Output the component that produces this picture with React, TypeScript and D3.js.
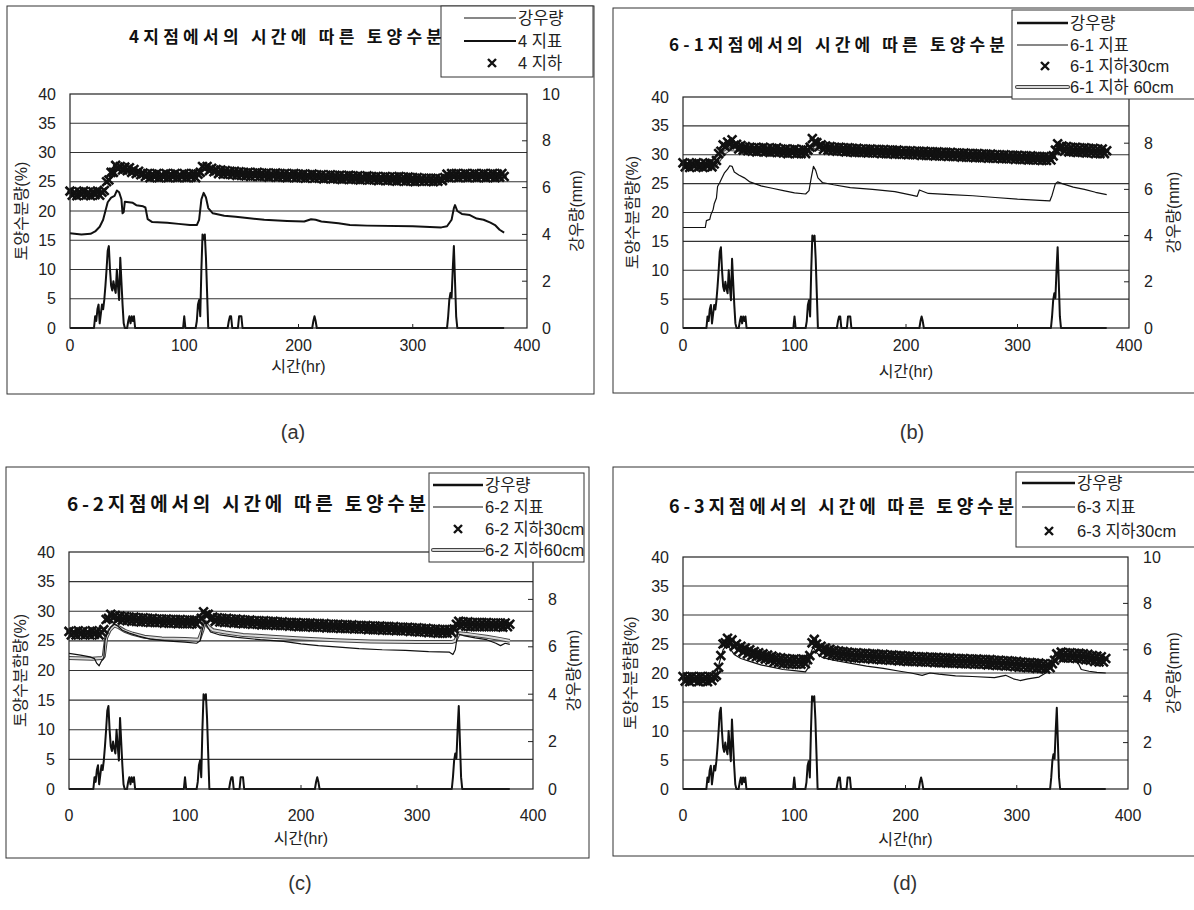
import React from 'react';
import * as d3 from 'd3';

// Hourly rainfall (hour, mm) recorded at the site; hours not listed had no rain.
const rainEvents: [number, number][] = [
  [22, 0.5], [23, 0.3], [24, 0.8], [25, 1.0], [26, 0.2], [27, 0.6], [28, 1.0], [29, 0.8], [30, 1.2],
  [31, 1.8], [32, 2.5], [33, 3.3], [34, 3.5], [35, 2.5], [36, 1.8], [37, 1.6], [38, 2.0], [39, 1.7],
  [40, 1.5], [41, 2.5], [42, 1.8], [43, 1.2], [44, 3.0], [45, 2.0], [46, 1.0], [47, 0.2],
  [51, 0.3], [52, 0.5], [53, 0.2], [54, 0.5], [55, 0.3], [56, 0.5],
  [100, 0.5],
  [111, 0.3], [112, 1.0], [113, 1.2], [114, 0.5], [115, 2.5], [116, 4.0], [117, 3.8], [118, 4.0], [119, 3.0], [120, 1.5],
  [139, 0.3], [140, 0.5], [141, 0.5],
  [148, 0.5], [149, 0.5], [150, 0.5],
  [213, 0.3], [214, 0.5], [215, 0.3],
  [331, 0.5], [332, 1.2], [333, 1.5], [334, 1.3], [335, 2.5], [336, 3.5], [337, 2.0], [338, 0.5],
];
const recordHours = 380;

// Subsurface sensors log every 2 hours starting at hour 0.
const subStep = 2;

const xTicks = [0, 100, 200, 300, 400];
const leftTicks = [0, 5, 10, 15, 20, 25, 30, 35, 40];
const rightTicks = [0, 2, 4, 6, 8, 10];

// ---- Station 4 ----
const st4Surface: [number, number][] = [
  [0, 16.2], [10, 16.0], [18, 16.1], [22, 16.5], [26, 17.3], [29, 18.5], [31, 20.0], [33, 21.5], [36, 22.3],
  [39, 22.6], [41, 23.5], [43, 23.2], [45, 22.0], [46, 19.6], [47, 19.8], [48, 21.6], [55, 21.4], [58, 21.0],
  [64, 20.8], [66, 20.6], [68, 18.6], [72, 18.1], [85, 18.0], [95, 17.8], [105, 17.6], [111, 17.6], [113, 18.5],
  [115, 22.0], [117, 23.1], [119, 22.3], [121, 20.5], [125, 19.6], [135, 19.2], [145, 19.0], [155, 18.8],
  [170, 18.5], [190, 18.3], [205, 18.2], [211, 18.6], [215, 18.5], [220, 18.2], [235, 17.9], [245, 17.6],
  [260, 17.5], [300, 17.4], [325, 17.2], [330, 17.4], [334, 18.5], [336, 20.5], [337, 21.0], [339, 20.0],
  [343, 19.5], [350, 19.3], [356, 18.7], [362, 18.5], [368, 18.0], [372, 17.6], [376, 16.8], [380, 16.3],
];
const st4Sub: number[] = [
  23.4, 22.7, 23.2, 22.6, 23.3, 22.8, 23.4, 22.7, 23.2, 22.6, 23.3, 22.8, 23.4, 22.7, 23.2, 23.5,
  25.0, 25.3, 26.6, 26.6, 27.8, 27.2, 27.6, 27.0, 27.5, 26.9, 27.4, 26.6, 27.1, 26.4, 26.8, 26.2,
  26.5, 25.9, 26.4, 25.7, 26.3, 25.8, 26.4, 25.7, 26.2, 25.8, 26.4, 25.7, 26.3, 25.8, 26.4, 25.7,
  26.2, 25.8, 26.4, 25.7, 26.3, 25.8, 26.4, 25.7, 26.3, 26.6, 27.6, 27.3, 27.6, 26.9, 27.3, 26.7,
  27.1, 26.4, 27.0, 26.3, 26.9, 26.3, 26.8, 26.2, 26.8, 26.1, 26.7, 26.1, 26.6, 26.0, 26.6, 25.9,
  26.5, 26.0, 26.6, 25.9, 26.5, 25.9, 26.5, 25.8, 26.4, 25.9, 26.5, 25.8, 26.4, 25.8, 26.4, 25.7,
  26.3, 25.8, 26.4, 25.7, 26.3, 25.7, 26.3, 25.6, 26.2, 25.7, 26.3, 25.6, 26.2, 25.6, 26.2, 25.5,
  26.1, 25.6, 26.2, 25.5, 26.1, 25.5, 26.1, 25.4, 26.0, 25.5, 26.1, 25.4, 26.0, 25.4, 26.0, 25.3,
  25.9, 25.4, 26.0, 25.3, 25.9, 25.3, 25.9, 25.2, 25.8, 25.3, 25.9, 25.2, 25.8, 25.2, 25.8, 25.1,
  25.9, 25.2, 25.8, 25.1, 25.8, 25.1, 25.7, 25.0, 25.7, 25.1, 25.6, 25.1, 25.6, 25.1, 25.6, 25.0,
  25.6, 25.1, 25.5, 25.2, 25.7, 26.3, 25.7, 26.4, 25.8, 26.4, 25.7, 26.3, 25.8, 26.4, 25.7, 26.3,
  25.8, 26.4, 25.7, 26.3, 25.8, 26.4, 25.7, 26.3, 25.8, 26.4, 25.7, 26.3, 25.8, 26.4, 25.9,
];

// ---- Station 6-1 ----
const st61Surface: [number, number][] = [
  [0, 17.4], [20, 17.4], [21, 18.6], [24, 18.8], [25, 19.6], [27, 20.5], [28, 21.5], [30, 22.5], [31, 24.5],
  [33, 25.2], [35, 26.0], [37, 26.8], [40, 27.5], [42, 28.1], [44, 28.0], [46, 27.0], [50, 26.5], [55, 26.0],
  [60, 25.3], [70, 24.6], [80, 24.2], [90, 23.8], [100, 23.4], [110, 23.2], [113, 23.8], [115, 26.0],
  [117, 28.0], [119, 27.3], [121, 26.0], [125, 25.2], [135, 24.8], [150, 24.3], [170, 24.0], [190, 23.6],
  [205, 23.0], [210, 22.8], [212, 23.9], [216, 23.6], [220, 23.3], [240, 23.1], [260, 22.9], [280, 22.6],
  [300, 22.3], [320, 22.1], [329, 22.0], [331, 23.0], [334, 25.0], [336, 25.3], [340, 25.0], [350, 24.4],
  [360, 24.0], [370, 23.5], [380, 23.1],
];
const st61Sub30: number[] = [
  28.6, 27.9, 28.4, 27.8, 28.5, 28.0, 28.6, 27.9, 28.4, 27.8, 28.5, 28.0, 28.6, 27.9, 28.4, 29.0,
  30.2, 30.6, 31.7, 31.4, 32.2, 31.8, 32.6, 31.6, 31.8, 31.0, 31.6, 30.8, 31.4, 30.7, 31.3, 30.6,
  31.2, 30.5, 31.2, 30.6, 31.3, 30.5, 31.1, 30.4, 31.1, 30.5, 31.2, 30.4, 31.0, 30.3, 31.0, 30.2,
  30.9, 30.3, 31.0, 30.2, 30.8, 30.2, 30.9, 30.2, 30.8, 31.3, 32.8, 32.2, 32.1, 31.4, 31.7, 30.9,
  31.5, 30.8, 31.4, 30.7, 31.3, 30.6, 31.3, 30.6, 31.2, 30.5, 31.2, 30.5, 31.1, 30.4, 31.1, 30.4,
  31.0, 30.4, 31.0, 30.3, 31.0, 30.3, 30.9, 30.3, 30.9, 30.2, 30.9, 30.2, 30.8, 30.2, 30.8, 30.1,
  30.8, 30.1, 30.7, 30.1, 30.7, 30.0, 30.7, 30.0, 30.6, 30.0, 30.6, 29.9, 30.6, 29.9, 30.5, 29.9,
  30.5, 29.8, 30.5, 29.8, 30.4, 29.8, 30.4, 29.7, 30.4, 29.7, 30.3, 29.7, 30.3, 29.6, 30.3, 29.6,
  30.2, 29.6, 30.2, 29.5, 30.2, 29.5, 30.1, 29.5, 30.1, 29.4, 30.1, 29.4, 30.0, 29.4, 30.0, 29.3,
  30.0, 29.3, 29.9, 29.3, 29.9, 29.2, 29.9, 29.2, 29.8, 29.2, 29.8, 29.1, 29.8, 29.1, 29.7, 29.1,
  29.7, 29.0, 29.7, 29.0, 29.6, 29.1, 29.8, 30.8, 31.9, 31.0, 31.5, 30.6, 31.4, 30.5, 31.3, 30.5,
  31.3, 30.4, 31.2, 30.4, 31.2, 30.3, 31.1, 30.3, 31.1, 30.2, 31.0, 30.2, 31.0, 30.2, 30.7,
];
const st61Sub60: [number, number][] = [
  [0, 28.0], [28, 28.0], [32, 29.0], [36, 30.2], [42, 31.0], [50, 30.8], [80, 30.5], [112, 30.2],
  [116, 31.5], [122, 31.0], [150, 30.6], [200, 30.3], [250, 30.0], [300, 29.7], [330, 29.4], [334, 30.3],
  [338, 30.8], [360, 30.6], [380, 30.4],
];

// ---- Station 6-2 ----
const st62Surface: [number, number][] = [
  [0, 22.9], [10, 22.6], [18, 22.3], [22, 22.0], [24, 21.2], [26, 20.8], [28, 21.6], [30, 22.0], [31, 25.0],
  [33, 26.3], [36, 27.3], [39, 27.8], [42, 27.5], [46, 26.8], [52, 26.3], [60, 25.8], [70, 25.3], [80, 25.1],
  [90, 24.9], [100, 24.8], [110, 24.6], [113, 25.0], [115, 27.0], [117, 28.2], [119, 27.5], [122, 26.5],
  [130, 26.0], [145, 25.6], [165, 25.2], [185, 24.9], [200, 24.5], [215, 24.2], [230, 24.0], [250, 23.7],
  [270, 23.5], [290, 23.4], [310, 23.2], [328, 23.1], [331, 22.7], [333, 23.5], [335, 26.2], [340, 25.9],
  [350, 25.5], [360, 25.2], [368, 24.6], [372, 24.2], [376, 24.6], [380, 24.4],
];
const st62Sub30: number[] = [
  26.6, 26.0, 26.5, 26.0, 26.7, 26.1, 26.6, 26.0, 26.5, 26.0, 26.7, 26.1, 26.6, 26.0, 26.5, 26.9,
  28.6, 28.8, 29.5, 28.9, 29.3, 28.6, 29.2, 28.5, 29.1, 28.4, 29.0, 28.3, 29.0, 28.3, 28.9, 28.2,
  28.9, 28.2, 28.8, 28.1, 28.8, 28.1, 28.7, 28.1, 28.7, 28.0, 28.7, 28.0, 28.6, 28.0, 28.6, 27.9,
  28.6, 27.9, 28.5, 27.9, 28.5, 27.9, 28.5, 27.8, 28.4, 28.8, 29.9, 29.4, 29.5, 28.6, 29.0, 28.3,
  28.9, 28.2, 28.8, 28.1, 28.8, 28.1, 28.7, 28.0, 28.7, 28.0, 28.6, 27.9, 28.5, 27.9, 28.5, 27.8,
  28.4, 27.8, 28.4, 27.7, 28.4, 27.7, 28.3, 27.7, 28.3, 27.6, 28.2, 27.6, 28.2, 27.6, 28.1, 27.5,
  28.1, 27.5, 28.1, 27.4, 28.0, 27.4, 28.0, 27.4, 28.0, 27.3, 27.9, 27.3, 27.9, 27.3, 27.9, 27.2,
  27.8, 27.2, 27.8, 27.2, 27.8, 27.1, 27.7, 27.1, 27.7, 27.1, 27.7, 27.0, 27.6, 27.0, 27.6, 27.0,
  27.6, 26.9, 27.5, 26.9, 27.5, 26.9, 27.5, 26.8, 27.4, 26.8, 27.4, 26.8, 27.4, 26.7, 27.3, 26.7,
  27.3, 26.7, 27.3, 26.6, 27.2, 26.6, 27.2, 26.5, 27.1, 26.5, 27.1, 26.4, 27.0, 26.4, 27.0, 26.3,
  26.9, 26.3, 26.9, 26.3, 26.9, 26.4, 27.0, 27.8, 28.3, 27.5, 28.2, 27.5, 28.2, 27.4, 28.1, 27.4,
  28.1, 27.4, 28.1, 27.4, 28.1, 27.4, 28.0, 27.4, 28.0, 27.4, 28.0, 27.3, 28.0, 27.4, 27.8,
];
const st62Sub60: [number, number][] = [
  [0, 22.1], [20, 22.0], [28, 22.1], [30, 22.4], [32, 25.5], [35, 26.8], [39, 27.6], [43, 27.3], [48, 26.7],
  [55, 26.2], [65, 25.7], [80, 25.4], [100, 25.3], [112, 25.2], [115, 26.8], [117, 28.3], [120, 27.4],
  [124, 26.8], [135, 26.4], [150, 26.0], [175, 25.7], [200, 25.4], [230, 25.1], [260, 24.9], [300, 24.8],
  [330, 24.8], [333, 25.0], [336, 26.3], [345, 26.1], [360, 25.7], [372, 25.3], [380, 25.0],
];

// ---- Station 6-3 ----
const st63Surface: [number, number][] = [
  [0, 18.6], [20, 18.4], [28, 18.6], [30, 19.5], [33, 22.0], [36, 24.0], [39, 24.8], [42, 24.3], [46, 23.2],
  [52, 22.5], [60, 22.0], [70, 21.4], [80, 21.0], [90, 20.6], [100, 20.4], [110, 20.2], [113, 21.0],
  [115, 23.5], [117, 24.5], [120, 23.5], [125, 22.7], [135, 22.2], [150, 21.7], [165, 21.2], [180, 20.8],
  [195, 20.3], [205, 20.0], [215, 19.6], [222, 20.0], [230, 19.8], [245, 19.5], [260, 19.4], [280, 19.2],
  [290, 19.6], [297, 19.0], [303, 18.7], [310, 19.0], [320, 19.3], [326, 20.0], [331, 21.0], [335, 22.3],
  [340, 22.8], [348, 22.9], [354, 22.2], [358, 20.6], [365, 20.3], [372, 20.1], [380, 20.0],
];
const st63Sub30: number[] = [
  19.4, 18.6, 19.3, 18.5, 19.4, 18.7, 19.3, 18.5, 19.4, 18.6, 19.3, 18.5, 19.4, 18.7, 19.3, 19.6,
  21.0, 23.0, 25.0, 25.2, 26.0, 25.1, 25.7, 24.6, 25.0, 24.0, 24.6, 23.6, 24.3, 23.3, 24.0, 23.0,
  23.7, 22.8, 23.5, 22.6, 23.3, 22.4, 23.1, 22.2, 22.9, 21.9, 22.7, 21.8, 22.6, 21.6, 22.5, 21.6,
  22.4, 21.5, 22.4, 21.5, 22.3, 21.5, 22.4, 21.6, 22.3, 23.0, 25.2, 25.8, 25.0, 24.2, 24.6, 23.6,
  24.3, 23.3, 24.1, 23.1, 23.9, 23.0, 23.8, 22.9, 23.7, 22.8, 23.6, 22.7, 23.5, 22.6, 23.5, 22.6,
  23.4, 22.5, 23.4, 22.5, 23.3, 22.4, 23.3, 22.4, 23.2, 22.3, 23.2, 22.3, 23.1, 22.2, 23.1, 22.2,
  23.0, 22.1, 23.0, 22.1, 22.9, 22.0, 22.9, 22.0, 22.8, 22.0, 22.8, 21.9, 22.8, 21.9, 22.7, 21.9,
  22.7, 21.8, 22.7, 21.8, 22.6, 21.8, 22.6, 21.7, 22.6, 21.7, 22.5, 21.7, 22.5, 21.6, 22.5, 21.6,
  22.4, 21.6, 22.4, 21.5, 22.4, 21.5, 22.3, 21.5, 22.3, 21.4, 22.3, 21.4, 22.2, 21.3, 22.2, 21.3,
  22.1, 21.2, 22.1, 21.2, 22.0, 21.1, 22.0, 21.0, 21.9, 21.0, 21.8, 20.9, 21.8, 20.9, 21.7, 20.8,
  21.7, 20.8, 21.6, 20.7, 21.5, 20.9, 21.6, 22.2, 23.3, 22.7, 23.6, 22.6, 23.5, 22.6, 23.5, 22.6,
  23.4, 22.5, 23.4, 22.4, 23.3, 22.3, 23.2, 22.2, 23.0, 22.0, 22.9, 21.9, 22.8, 21.9, 22.5,
];

const rainByHour = new Map(rainEvents);
const rainSeries: [number, number][] = d3.range(0, recordHours + 1).map((h) => [h, rainByHour.get(h) ?? 0]);
const toTimed = (vals: number[]): [number, number][] => vals.map((v, i) => [i * subStep, v]);

type LegendKind = 'rain' | 'surface' | 'cross' | 'tube';
type LegendItem = { kind: LegendKind; label: string };

type PanelCfg = {
  caption: string;
  captionPos: [number, number];
  title: string;
  titleSpan: [number, number];
  titleY: number;
  titleSize: number;
  frame: [number, number, number, number];
  plot: [number, number, number, number];
  leftTitle: string;
  leftTitleX: number;
  rightTitleX: number;
  tickY: number;
  xTitleY: number;
  surfaceWidth: number;
  legendBox: [number, number, number, number];
  legendRows: number[];
  legendLine: [number, number];
  legendCross: number;
  legendTextX: number;
  legendRainWidth: number;
  legendSurfaceWidth: number;
  legend: LegendItem[];
  surface: [number, number][];
  sub30: number[];
  sub60?: [number, number][];
};

const panels: PanelCfg[] = [
  {
    caption: '(a)', captionPos: [293, 432],
    title: '4지점에서의 시간에 따른 토양수분', titleSpan: [129, 442], titleY: 35, titleSize: 17,
    frame: [7, 6, 594, 394], plot: [70, 94, 527, 328],
    leftTitle: '토양수분량(%)', leftTitleX: 21, rightTitleX: 576, tickY: 345, xTitleY: 366,
    surfaceWidth: 2,
    legendBox: [441, 6, 593, 77], legendRows: [18, 41, 63], legendLine: [464, 516], legendCross: 492, legendTextX: 518,
    legendRainWidth: 1.2, legendSurfaceWidth: 2.2,
    legend: [
      { kind: 'rain', label: '강우량' },
      { kind: 'surface', label: '4 지표' },
      { kind: 'cross', label: '4 지하' },
    ],
    surface: st4Surface, sub30: st4Sub,
  },
  {
    caption: '(b)', captionPos: [912, 432],
    title: '6-1지점에서의 시간에 따른 토양수분', titleSpan: [669, 1005], titleY: 43, titleSize: 17,
    frame: [613, 8, 1200, 393], plot: [683, 97, 1129, 328],
    leftTitle: '토양수분함량(%)', leftTitleX: 632, rightTitleX: 1173, tickY: 345, xTitleY: 371,
    surfaceWidth: 1.2,
    legendBox: [1012, 10, 1200, 99], legendRows: [23, 45, 66, 87], legendLine: [1017, 1068], legendCross: 1045, legendTextX: 1070,
    legendRainWidth: 2.5, legendSurfaceWidth: 1.2,
    legend: [
      { kind: 'rain', label: '강우량' },
      { kind: 'surface', label: '6-1 지표' },
      { kind: 'cross', label: '6-1 지하30cm' },
      { kind: 'tube', label: '6-1 지하 60cm' },
    ],
    surface: st61Surface, sub30: st61Sub30, sub60: st61Sub60,
  },
  {
    caption: '(c)', captionPos: [300, 883],
    title: '6-2지점에서의 시간에 따른 토양수분', titleSpan: [67, 426], titleY: 502, titleSize: 19,
    frame: [6, 467, 589, 858], plot: [69, 552, 533, 789],
    leftTitle: '토양수분함량(%)', leftTitleX: 20, rightTitleX: 573, tickY: 815, xTitleY: 838,
    surfaceWidth: 1.2,
    legendBox: [429, 473, 584, 562], legendRows: [485, 507, 529, 550], legendLine: [433, 483], legendCross: 458, legendTextX: 485,
    legendRainWidth: 2.5, legendSurfaceWidth: 1.2,
    legend: [
      { kind: 'rain', label: '강우량' },
      { kind: 'surface', label: '6-2 지표' },
      { kind: 'cross', label: '6-2 지하30cm' },
      { kind: 'tube', label: '6-2 지하60cm' },
    ],
    surface: st62Surface, sub30: st62Sub30, sub60: st62Sub60,
  },
  {
    caption: '(d)', captionPos: [905, 883],
    title: '6-3지점에서의 시간에 따른 토양수분', titleSpan: [669, 1014], titleY: 505, titleSize: 18,
    frame: [613, 467, 1200, 856], plot: [683, 557, 1128, 789],
    leftTitle: '토양수분함량(%)', leftTitleX: 630, rightTitleX: 1173, tickY: 815, xTitleY: 839,
    surfaceWidth: 1.2,
    legendBox: [1016, 472, 1200, 547], legendRows: [483, 507, 531], legendLine: [1022, 1075], legendCross: 1049, legendTextX: 1077,
    legendRainWidth: 2.5, legendSurfaceWidth: 1.2,
    legend: [
      { kind: 'rain', label: '강우량' },
      { kind: 'surface', label: '6-3 지표' },
      { kind: 'cross', label: '6-3 지하30cm' },
    ],
    surface: st63Surface, sub30: st63Sub30,
  },
];

const KR = '"Noto Sans CJK KR", "Noto Sans", sans-serif';
// Latin-first stack: digits and units in Liberation Sans, Hangul falls back to Noto Sans CJK
const MIXED = '"Liberation Sans", Arial, "Noto Sans CJK KR", sans-serif';
const NUM = '"Liberation Sans", Arial, sans-serif';
const INK = '#111';

const crossPath = (s: number) => `M${-s},${-s}L${s},${s}M${-s},${s}L${s},${-s}`;

function Panel({ cfg }: { cfg: PanelCfg }) {
  const [px0, py0, px1, py1] = cfg.plot;
  const x = d3.scaleLinear().domain([0, 400]).range([px0, px1]);
  const yL = d3.scaleLinear().domain([0, 40]).range([py1, py0]);
  const yR = d3.scaleLinear().domain([0, 10]).range([py1, py0]);
  const soilLine = d3.line<[number, number]>().x((d) => x(d[0])).y((d) => yL(d[1]));
  const rainLine = d3.line<[number, number]>().x((d) => x(d[0])).y((d) => yR(d[1]));
  const sub30 = toTimed(cfg.sub30);
  const [fx0, fy0, fx1, fy1] = cfg.frame;
  const [lx0, ly0, lx1, ly1] = cfg.legendBox;
  const midY = (py0 + py1) / 2;
  // right-axis labels that sit under the legend box stay hidden
  const rightVisible = rightTicks.filter((t) => !(yR(t) < ly1 + 4 && px1 + 15 > lx0));

  return (
    <g>
      <rect x={fx0} y={fy0} width={fx1 - fx0} height={fy1 - fy0} fill="#fff" stroke="#333" strokeWidth={1} />

      {/* title (right end tucked under the legend box) */}
      <text
        x={cfg.titleSpan[0]} y={cfg.titleY} dominantBaseline="central"
        textLength={cfg.titleSpan[1] - cfg.titleSpan[0]} lengthAdjust="spacing"
        fontFamily={KR} fontWeight={700} fontSize={cfg.titleSize} fill={INK}
      >
        {cfg.title}
      </text>

      {/* horizontal gridlines */}
      {leftTicks.filter((t) => t > 0 && t < 40).map((t) => (
        <line key={t} x1={px0} x2={px1} y1={yL(t)} y2={yL(t)} stroke="#333" strokeWidth={1.1} />
      ))}

      {/* 60 cm record: light line with dark edges */}
      {cfg.sub60 && (
        <g fill="none" strokeLinejoin="round">
          <path d={soilLine(cfg.sub60) ?? ''} stroke="#444" strokeWidth={4} />
          <path d={soilLine(cfg.sub60) ?? ''} stroke="#d8d8d8" strokeWidth={2} />
        </g>
      )}

      {/* surface record */}
      <path d={soilLine(cfg.surface) ?? ''} fill="none" stroke={INK} strokeWidth={cfg.surfaceWidth} strokeLinejoin="round" />

      {/* 30 cm record as cross markers */}
      <g stroke={INK} strokeWidth={2.6} fill="none">
        {sub30.map((d, i) => (
          <path key={i} d={crossPath(4.4)} transform={`translate(${x(d[0])},${yL(d[1])})`} />
        ))}
      </g>

      {/* rainfall on the secondary axis */}
      <path d={rainLine(rainSeries) ?? ''} fill="none" stroke={INK} strokeWidth={2} strokeLinejoin="round" />

      {/* plot border */}
      <rect x={px0} y={py0} width={px1 - px0} height={py1 - py0} fill="none" stroke="#222" strokeWidth={1.2} />

      {/* axis ticks */}
      {xTicks.filter((t) => t > 0 && t < 400).map((t) => (
        <line key={t} x1={x(t)} x2={x(t)} y1={py1} y2={py1 - 4} stroke="#222" />
      ))}
      {rightTicks.filter((t) => t > 0 && t < 10).map((t) => (
        <line key={t} x1={px1} x2={px1 - 5} y1={yR(t)} y2={yR(t)} stroke="#222" />
      ))}

      {/* tick labels */}
      <g fontFamily={NUM} fontSize={16} fill="#222">
        {leftTicks.map((t) => (
          <text key={t} x={px0 - 14} y={yL(t)} textAnchor="end" dominantBaseline="central">{t}</text>
        ))}
        {rightVisible.map((t) => (
          <text key={t} x={px1 + 15} y={yR(t)} textAnchor="start" dominantBaseline="central">{t}</text>
        ))}
        {xTicks.map((t) => (
          <text key={t} x={x(t)} y={cfg.tickY} textAnchor="middle" dominantBaseline="central">{t}</text>
        ))}
      </g>

      {/* axis titles */}
      <g fontFamily={MIXED} fontSize={16} fill="#222">
        <text x={(px0 + px1) / 2} y={cfg.xTitleY} textAnchor="middle" dominantBaseline="central">시간(hr)</text>
        <text transform={`translate(${cfg.leftTitleX},${midY}) rotate(-90)`} textAnchor="middle" dominantBaseline="central">
          {cfg.leftTitle}
        </text>
        <text transform={`translate(${cfg.rightTitleX},${midY}) rotate(-90)`} textAnchor="middle" dominantBaseline="central">
          강우량(mm)
        </text>
      </g>

      {/* legend */}
      <rect x={lx0} y={ly0} width={lx1 - lx0} height={ly1 - ly0} fill="#fff" stroke="#333" strokeWidth={1} />
      {cfg.legend.map((item, i) => {
        const ry = cfg.legendRows[i];
        const [a, b] = cfg.legendLine;
        let mark: React.ReactNode = null;
        if (item.kind === 'rain') {
          mark = <line x1={a} x2={b} y1={ry} y2={ry} stroke={INK} strokeWidth={cfg.legendRainWidth} />;
        } else if (item.kind === 'surface') {
          mark = <line x1={a} x2={b} y1={ry} y2={ry} stroke={INK} strokeWidth={cfg.legendSurfaceWidth} />;
        } else if (item.kind === 'cross') {
          mark = <path d={crossPath(4)} transform={`translate(${cfg.legendCross},${ry})`} stroke={INK} strokeWidth={2.4} fill="none" />;
        } else {
          mark = (
            <g>
              <line x1={a} x2={b} y1={ry} y2={ry} stroke="#444" strokeWidth={4} strokeLinecap="round" />
              <line x1={a} x2={b} y1={ry} y2={ry} stroke="#d8d8d8" strokeWidth={2} strokeLinecap="round" />
            </g>
          );
        }
        return (
          <g key={i}>
            {mark}
            <text x={cfg.legendTextX} y={ry} dominantBaseline="central" fontFamily={MIXED} fontSize={16.5} fill="#222">
              {item.label}
            </text>
          </g>
        );
      })}

      {/* sub-figure caption */}
      <text
        x={cfg.captionPos[0]} y={cfg.captionPos[1]} textAnchor="middle" dominantBaseline="central"
        fontFamily={NUM} fontSize={20} fill="#333"
      >
        {cfg.caption}
      </text>
    </g>
  );
}

export default function App() {
  return (
    <svg
      width={1194}
      height={910}
      viewBox="0 0 1194 910"
      style={{ position: 'absolute', left: 0, top: 0, background: '#fff' }}
    >
      <rect x={0} y={0} width={1194} height={910} fill="#fff" />
      {panels.map((p) => (
        <Panel key={p.caption} cfg={p} />
      ))}
    </svg>
  );
}
